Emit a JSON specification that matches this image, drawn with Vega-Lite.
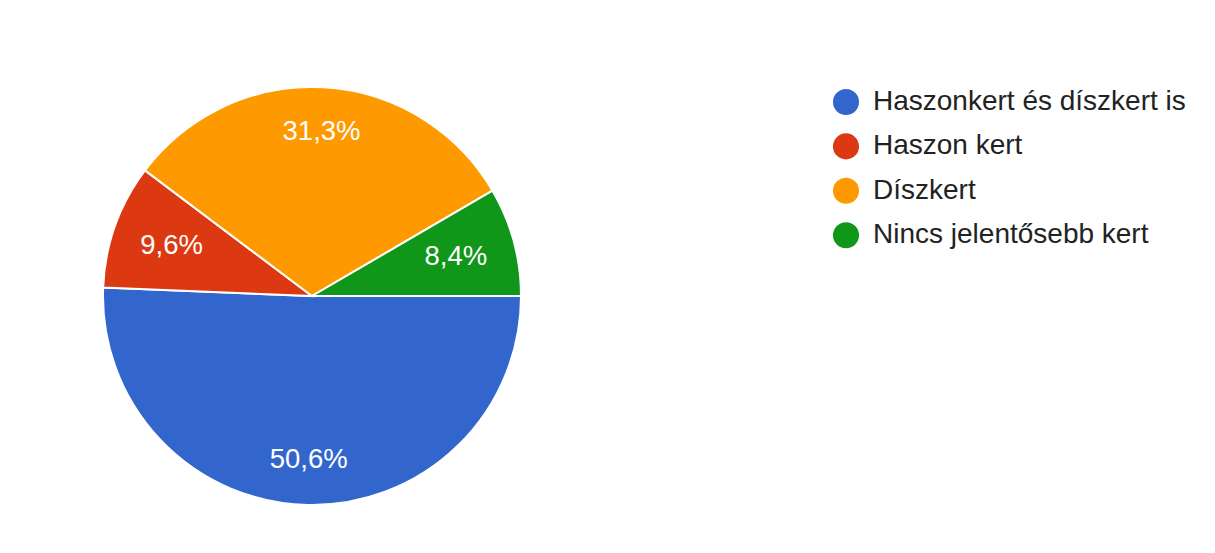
{
  "$schema": "https://vega.github.io/schema/vega-lite/v6.json",
  "autosize": {"type": "none"},
  "width": 624,
  "height": 514,
  "padding": {"left": 0, "top": 39, "right": 591, "bottom": 0},
  "background": "white",
  "data": {
    "values": [
      {"category": "Haszonkert és díszkert is", "pct": 50.6, "label": "50,6%", "order": 1},
      {"category": "Haszon kert", "pct": 9.6, "label": "9,6%", "order": 2},
      {"category": "Díszkert", "pct": 31.3, "label": "31,3%", "order": 3},
      {"category": "Nincs jelentősebb kert", "pct": 8.4, "label": "8,4%", "order": 4}
    ]
  },
  "encoding": {
    "theta": {"field": "pct", "type": "quantitative", "stack": true, "scale": {"range": [1.5707963, 7.8539816]}},
    "order": {"field": "order", "type": "quantitative"}
  },
  "layer": [
    {
      "mark": {"type": "arc", "radius": 209, "stroke": "white", "strokeWidth": 2},
      "encoding": {
        "color": {
          "field": "category",
          "type": "nominal",
          "scale": {
            "domain": ["Haszonkert és díszkert is", "Haszon kert", "Díszkert", "Nincs jelentősebb kert"],
            "range": ["#3366cc", "#dc3912", "#ff9900", "#109618"]
          },
          "legend": {
            "title": null,
            "orient": "none",
            "legendX": 832,
            "legendY": 49,
            "symbolType": "circle",
            "symbolSize": 680,
            "symbolStrokeWidth": 0,
            "labelFont": "Liberation Sans",
            "labelFontSize": 28,
            "labelColor": "#222222",
            "labelOffset": 13,
            "rowPadding": 16.4,
            "labelLimit": 600
          }
        }
      }
    },
    {
      "mark": {"type": "text", "font": "Liberation Sans", "fontSize": 27.5, "fill": "white", "radius": {"expr": "datum.pct > 20 ? 164 : 149"}},
      "encoding": {
        "text": {"field": "label"}
      }
    }
  ]
}
